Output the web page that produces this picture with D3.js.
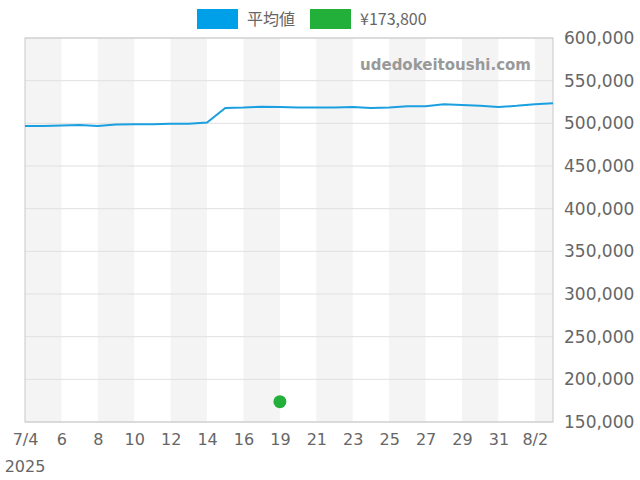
<!DOCTYPE html>
<html><head><meta charset="utf-8">
<script src="https://cdn.jsdelivr.net/npm/d3@7"></script>
<style>body{margin:0;background:#fff}text{font-family:"DejaVu Sans",sans-serif}</style>
</head><body><svg id="chart" width="640" height="480"></svg>
<script>
var dates = ['7/4','7/5','7/6','7/7','7/8','7/9','7/10','7/11','7/12','7/13','7/14','7/15','7/16','7/17','7/19','7/20','7/21','7/22','7/23','7/24','7/25','7/26','7/27','7/28','7/29','7/30','7/31','8/1','8/2','8/3']
var avgPrice = [497000,497000,497500,498000,497000,498500,499000,499000,499500,499500,501000,518000,518500,519500,519000,518500,518500,518500,519000,518000,518500,520000,520000,522500,521500,520500,519000,520500,522500,523500]
var offer = { date: '7/19', price: 173800 }
var yTicks = [150000,200000,250000,300000,350000,400000,450000,500000,550000,600000]

var svg = d3.select('#chart')
var mLeft = 25, mRight = 553, mTop = 38, mBottom = 422

var x = d3.scalePoint().domain(dates).range([mLeft, mRight])
var y = d3.scaleLinear().domain([150000, 600000]).range([mBottom, mTop])

// alternating bands every 2 points
var step = x.step()
dates.forEach(function(d, i) {
	if (i % 4 == 0) {
		svg.append('rect').attr('x', x(d)).attr('y', mTop)
			.attr('width', Math.min(step * 2, mRight - x(d))).attr('height', mBottom - mTop)
			.attr('fill', '#f4f4f4')
	}
})

// horizontal grid
svg.selectAll('.grid').data(yTicks).enter().append('line')
	.attr('x1', mLeft).attr('x2', mRight)
	.attr('y1', d => y(d)).attr('y2', d => y(d))
	.attr('stroke', '#e0e0e0')

svg.append('rect').attr('x', mLeft).attr('y', mTop).attr('width', mRight - mLeft).attr('height', mBottom - mTop)
	.attr('fill', 'none').attr('stroke', '#c8c8c8')

// y axis on the right
var yAxis = svg.append('g').attr('transform', 'translate(' + mRight + ',0)')
	.call(d3.axisRight(y).tickValues(yTicks).tickFormat(d3.format(',')).tickSize(0).tickPadding(11))
yAxis.select('.domain').remove()
yAxis.selectAll('text').attr('font-size', 17).attr('fill', '#666')

// x axis
var xAxis = svg.append('g').attr('transform', 'translate(0,' + mBottom + ')')
	.call(d3.axisBottom(x).tickValues(dates.filter((d, i) => i % 2 == 0))
		.tickFormat((d, i) => (i == 0 || d.startsWith('8/')) ? d : d.split('/')[1])
		.tickSize(0).tickPadding(12))
xAxis.select('.domain').remove()
xAxis.selectAll('text').attr('font-size', 16).attr('fill', '#666')
svg.append('text').attr('x', 25).attr('y', 472).attr('text-anchor', 'middle')
	.attr('font-size', 16).attr('fill', '#666').text('2025')

// watermark
svg.append('text').attr('x', 531).attr('y', 70).attr('text-anchor', 'end')
	.attr('font-size', 15).attr('font-weight', 'bold').attr('fill', '#999').text('udedokeitoushi.com')

// line
var line = d3.line().x((d, i) => x(dates[i])).y(d => y(d))
svg.append('path').datum(avgPrice).attr('d', line)
	.attr('fill', 'none').attr('stroke', '#1a9fe0').attr('stroke-width', 2)

svg.append('circle').attr('cx', x(offer.date)).attr('cy', y(offer.price)).attr('r', 6.5).attr('fill', '#22b03a')

// legend
var legend = [{ label: '平均値', color: '#00a0e9', x: 197 }, { label: '¥173,800', color: '#22b03a', x: 310 }]
legend.forEach(function(l) {
	svg.append('rect').attr('x', l.x).attr('y', 9).attr('width', 41).attr('height', 20).attr('fill', l.color)
	svg.append('text').attr('x', l.x + 50).attr('y', 25).attr('font-size', 16).attr('fill', '#666')
		.style('font-family', '"Noto Sans CJK JP","DejaVu Sans",sans-serif').text(l.label)
})
</script></body></html>
